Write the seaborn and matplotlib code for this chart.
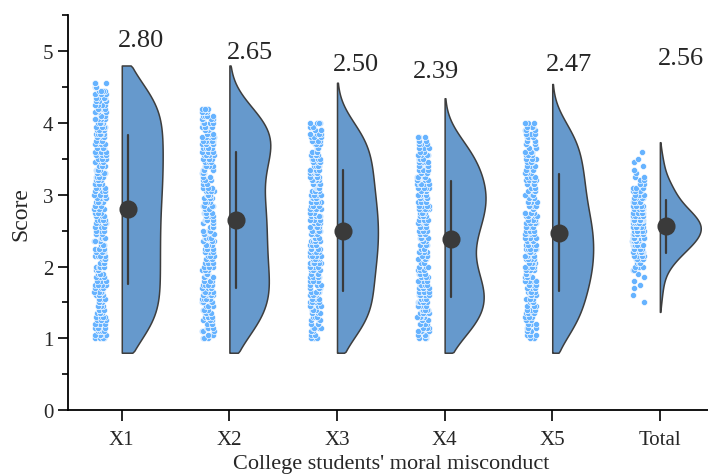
import numpy as np
import pandas as pd
import seaborn as sns
import matplotlib
import matplotlib.pyplot as plt
from matplotlib.ticker import MultipleLocator
from matplotlib.transforms import Affine2D

matplotlib.use("Agg")

groups = ["X1", "X2", "X3", "X4", "X5", "Total"]
mean_labels = [2.80, 2.65, 2.50, 2.39, 2.47, 2.56]

# lowest score level of each group; levels go up in steps of 0.05
starts = [1.00, 1.00, 1.00, 1.00, 1.00, 1.50]

# number of students at each score level (read from the strips / violins)
counts_x1 = [4, 4, 4, 4, 4, 4, 4, 4, 4, 4,
             4, 4, 4, 4, 4, 4, 4, 4, 4, 4,
             4, 4, 4, 4, 4, 4, 4, 4, 4, 4,
             4, 4, 4, 4, 4, 4, 4, 4, 4, 4,
             4, 5, 4, 4, 5, 4, 4, 5, 4, 4,
             4, 5, 4, 4, 5, 4, 4, 5, 4, 4,
             4, 5, 4, 4, 5, 4, 4, 4, 4, 4,
             4, 4]
counts_x2 = [3, 3, 3, 3, 4, 4, 4, 4, 4, 4,
             4, 4, 5, 5, 5, 5, 4, 4, 4, 4,
             4, 4, 4, 4, 4, 4, 4, 4, 4, 4,
             4, 4, 4, 4, 4, 4, 4, 4, 4, 4,
             4, 4, 3, 3, 3, 3, 3, 4, 4, 4,
             4, 5, 5, 5, 5, 5, 5, 5, 5, 5,
             5, 5, 5, 4, 4]
counts_x3 = [3, 3, 3, 4, 3, 4, 3, 4, 4, 4,
             4, 4, 4, 4, 4, 4, 4, 4, 4, 4,
             4, 5, 4, 5, 4, 5, 4, 5, 4, 5,
             5, 4, 5, 4, 5, 4, 5, 4, 5, 4,
             4, 4, 4, 4, 4, 4, 4, 4, 4, 4,
             4, 4, 4, 3, 3, 4, 3, 4, 3, 3,
             4]
counts_x4 = [3, 3, 4, 4, 4, 4, 4, 5, 5, 5,
             5, 5, 5, 5, 5, 5, 4, 4, 4, 4,
             3, 3, 3, 3, 3, 3, 3, 3, 4, 4,
             4, 4, 4, 4, 5, 5, 5, 5, 5, 5,
             5, 5, 5, 5, 5, 4, 4, 4, 4, 4,
             4, 4, 3, 3, 3, 3, 3]
counts_x5 = [3, 3, 3, 3, 3, 3, 3, 4, 4, 4,
             4, 4, 4, 4, 4, 4, 5, 5, 5, 5,
             5, 5, 5, 5, 5, 5, 5, 5, 5, 5,
             5, 5, 5, 5, 5, 4, 4, 4, 4, 4,
             4, 4, 4, 4, 4, 4, 4, 4, 3, 3,
             4, 4, 4, 3, 3, 3, 3, 3, 3, 3,
             3]
counts_total = [1, 0, 1, 0, 1, 1, 1, 1, 1, 2,
                3, 3, 4, 5, 6, 7, 8, 9, 10, 10,
                11, 11, 11, 10, 9, 8, 7, 6, 5, 4,
                4, 4, 3, 3, 2, 2, 1, 1, 1, 1,
                1, 0, 1]

all_counts = [counts_x1, counts_x2, counts_x3, counts_x4, counts_x5, counts_total]

rows = []
for g, s, c in zip(groups, starts, all_counts):
    levels = np.round(s + 0.05 * np.arange(len(c)), 2)
    for v in np.repeat(levels, c):
        rows.append((g, v))
df = pd.DataFrame(rows, columns=["group", "score"])

# label placement (offset from category, height)
label_dx = [0.18, 0.19, 0.18, -0.08, 0.16, 0.20]
label_y = [5.15, 4.99, 4.82, 4.72, 4.82, 4.90]

sns.set_style("ticks")
plt.rcParams["font.family"] = ["Liberation Serif", "DejaVu Serif"]
np.random.seed(7)

fig = plt.figure(figsize=(7.08, 4.77), dpi=100)
ax = fig.add_axes([0.096, 0.138, 0.912, 0.828])

# half violins (Total gets a shorter tail)
vkw = dict(x="group", y="score", order=groups, split=True, inner=None,
           density_norm="width", width=0.38, color="#6699cc", saturation=1,
           linecolor="#3d3d3d", linewidth=1.1, ax=ax)
sns.violinplot(data=df[df["group"] != "Total"], **vkw)
sns.violinplot(data=df[df["group"] == "Total"], cut=1, **vkw)

# flat edge on the category, density to the right, ends cut at 0.8 / 4.8
for i, coll in enumerate(ax.collections[:len(groups)]):
    for p in coll.get_paths():
        v = p.vertices.copy()
        xs = np.round(v[:, 0], 6)
        vals, cnt = np.unique(xs, return_counts=True)
        x_flat = vals[np.argmax(cnt)]
        v[:, 0] = i + np.abs(v[:, 0] - x_flat)
        v[:, 1] = np.clip(v[:, 1], 0.8, 4.8)
        p.vertices = v

# raw points to the left
n0 = len(ax.collections)
sns.stripplot(
    data=df, x="group", y="score", order=groups,
    color="#66b3ff", size=4.4, jitter=0.055,
    edgecolor="white", linewidth=0.45, ax=ax,
)
for coll in ax.collections[n0:]:
    coll.set_offsets(coll.get_offsets() + np.array([-0.2, 0]))

# mean +- sd
l0 = len(ax.lines)
sns.pointplot(
    data=df, x="group", y="score", order=groups,
    errorbar="sd", color="#3a3a3a", markersize=11, linestyle="none",
    err_kws={"linewidth": 1.6}, ax=ax,
)
shift = Affine2D().translate(0.06, 0) + ax.transData
for ln in ax.lines[l0:]:
    ln.set_transform(shift)
    ln.set_zorder(5)

for i, m in enumerate(mean_labels):
    ax.text(i + label_dx[i], label_y[i], f"{m:.2f}", ha="center", va="center", fontsize=19)

ax.set_xlim(-0.5, 5.5)
ax.set_ylim(0, 5.5)
ax.set_yticks(range(6))
ax.yaxis.set_minor_locator(MultipleLocator(0.5))
ax.tick_params(which="major", length=7, width=1.2, labelsize=15, color="black")
ax.tick_params(which="minor", length=4, width=1.2, color="black")
ax.tick_params(axis="x", length=8, pad=6)
for s in ["left", "bottom"]:
    ax.spines[s].set_linewidth(1.3)
    ax.spines[s].set_color("black")
sns.despine(ax=ax)
ax.set_xlabel("College students' moral misconduct", fontsize=16, labelpad=4)
ax.set_ylabel("Score", fontsize=17, labelpad=8)

plt.savefig("out.png", dpi=100)
